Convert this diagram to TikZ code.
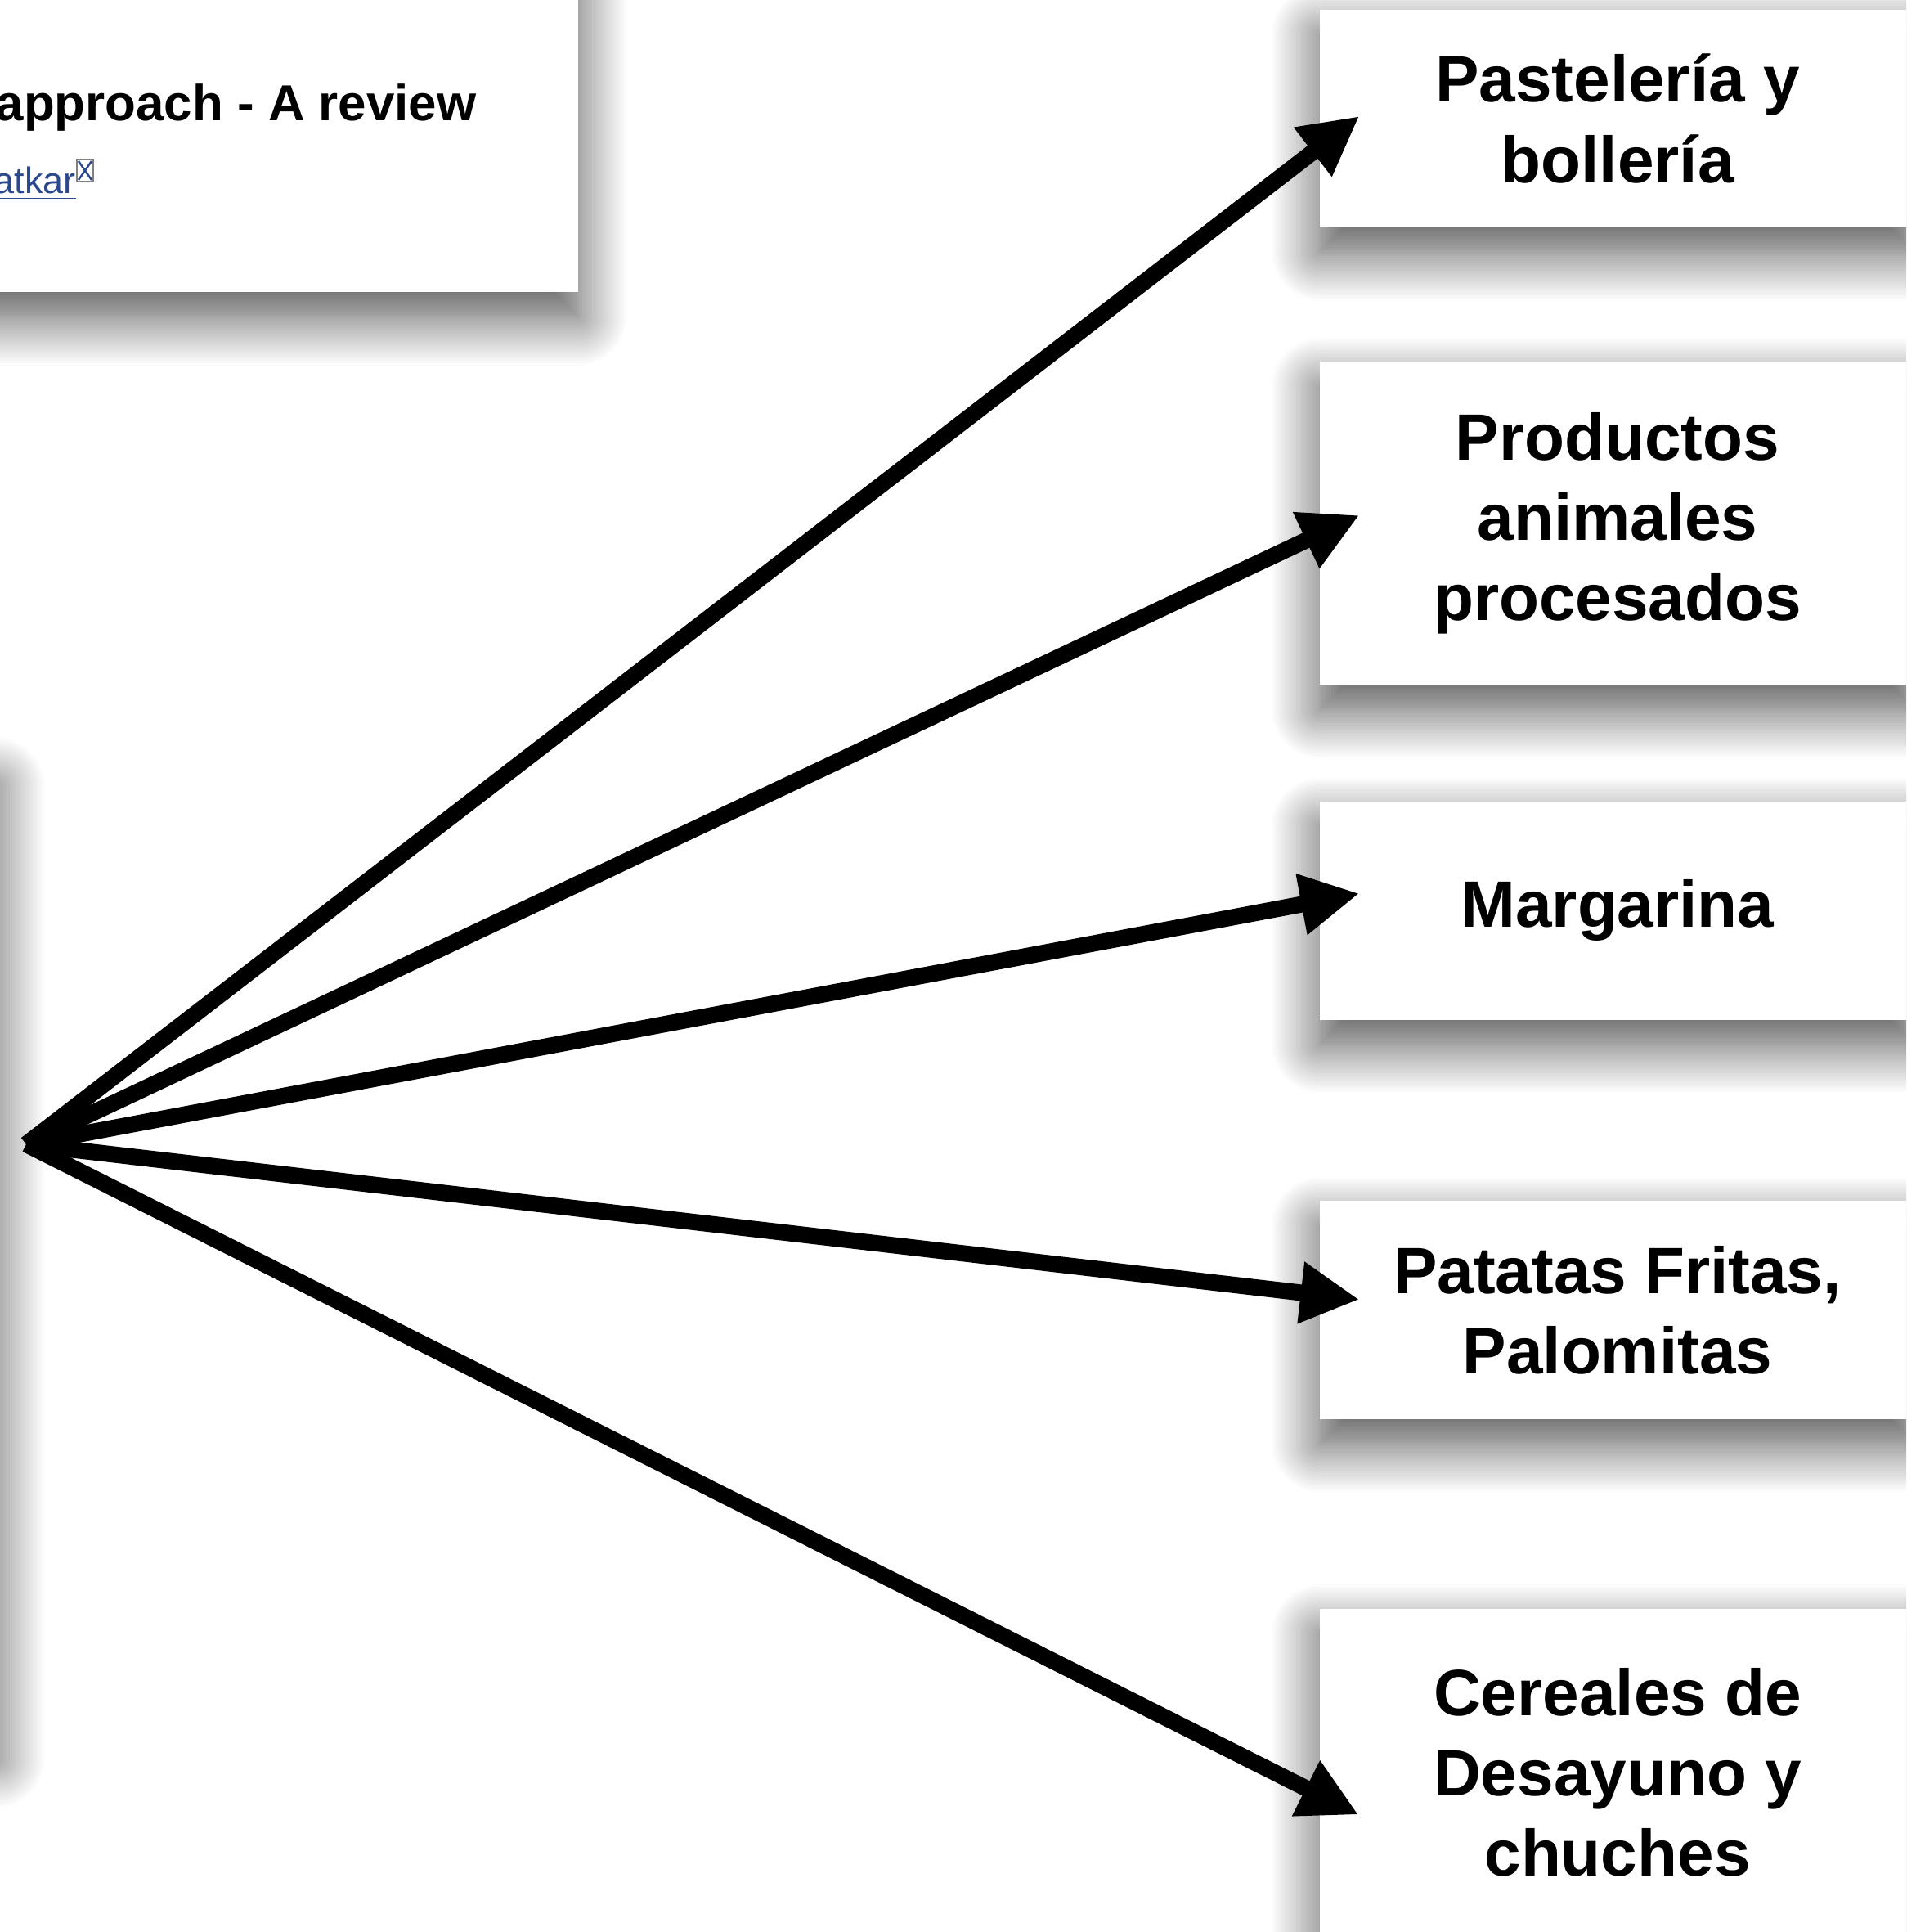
\documentclass[tikz,border=0pt]{standalone}
\usepackage{fontspec}
\setmainfont{Liberation Sans}
\usetikzlibrary{positioning}
\usetikzlibrary{arrows.meta}
\usetikzlibrary{shadows.blur}
\definecolor{linkblue}{RGB}{44,72,140}

\begin{document}
\begin{tikzpicture}[
    softshadow/.style={blur shadow={shadow xshift=0cm, shadow yshift=-0.3cm, shadow blur radius=0.6cm, shadow opacity=70, shadow blur steps=20}},
    paperbox/.style={rectangle, fill=white, softshadow},
    foodbox/.style={rectangle, fill=white, softshadow, minimum width=7.28cm, minimum height=2.67cm, align=center, font=\fontsize{22.8}{27.9}\selectfont\bfseries},
    arr/.style={line width=0.2cm, -{Triangle[length=0.72cm, width=0.71cm]}}
]
    \clip (0,0) rectangle (23.31,-23.62);

    \node [paperbox, minimum width=9cm, minimum height=5cm, anchor=south east] (paper) at (7.08,-3.58) {};
    \node [inner sep=0, anchor=base west, font=\fontsize{17.6}{21}\selectfont\bfseries] (title) at (-0.06,-1.48) {approach - A review};
    \node [inner sep=0, anchor=base west, text=linkblue, font=\fontsize{12.8}{15}\selectfont] (author) at (-0.08,-2.37) {\underline{atkar}};
    \draw [gray, line width=0.7pt] (0.94,-1.95) rectangle (1.14,-2.22);
    \draw [linkblue, line width=0.7pt] (0.96,-1.97) -- (1.12,-2.20) (1.12,-1.97) -- (0.96,-2.20);

    \node [paperbox, minimum width=5cm, minimum height=11.9cm, anchor=north east] (fuente) at (-0.04,-9.3) {};
    \coordinate (hub) at (0.32,-13.99);

    \node [foodbox, minimum height=2.66cm] (pasteleria) at (19.78,-1.45) {Pastelería y\\bollería};
    \node [foodbox, minimum height=3.95cm, below=1.63cm of pasteleria] (productos) {Productos\\animales\\procesados};
    \node [foodbox, below=1.41cm of productos] (margarina) {Margarina};
    \node [foodbox, below=2.2cm of margarina] (patatas) {Patatas Fritas,\\Palomitas};
    \node [foodbox, minimum height=4.0cm, below=2.3cm of patatas] (cereales) {Cereales de\\Desayuno y\\chuches};

    \draw [arr] (hub) -- ([xshift=0.49cm, yshift=0.03cm]pasteleria.west);
    \draw [arr] (hub) -- ([xshift=0.49cm, yshift=0.1cm]productos.west);
    \draw [arr] (hub) -- ([xshift=0.49cm, yshift=0.21cm]margarina.west);
    \draw [arr] (hub) -- ([xshift=0.49cm, yshift=0.13cm]patatas.west);
    \draw [arr] (hub) -- ([xshift=0.48cm, yshift=-0.52cm]cereales.west);
\end{tikzpicture}
\end{document}
